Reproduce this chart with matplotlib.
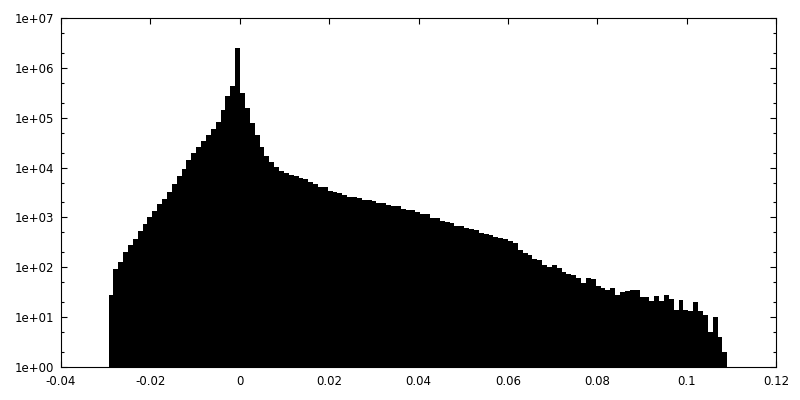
import numpy as np
import matplotlib
matplotlib.use('Agg')
import matplotlib.pyplot as plt
from matplotlib.ticker import FixedLocator, FuncFormatter, LogLocator, NullLocator

# histogram: first bin edge, bin width, counts per bin
x_start = -0.02937
bin_width = 0.0010903
counts = [28, 92, 128, 203, 280, 369, 534, 738, 1020, 1345,
          1858, 2340, 3234, 4680, 6770, 9350, 14180, 19590, 25840, 34100,
          44980, 59330, 82000, 142600, 272400, 432300, 2500000, 312900, 156600, 78300,
          44980, 25840, 17060, 12940, 10260, 8530, 7780, 7100, 6770, 6180,
          5900, 5130, 4680, 4070, 4070, 3390, 3234, 3090, 2817, 2568,
          2568, 2450, 2235, 2235, 2135, 1946, 1946, 1775, 1695, 1695,
          1476, 1409, 1409, 1285, 1171, 1171, 973, 973, 848, 810,
          773, 673, 673, 614, 586, 560, 487, 465, 444, 405,
          387, 369, 337, 307, 222, 193, 176, 147, 140, 111,
          101, 111, 97, 80, 73, 70, 61, 48, 61, 58,
          42, 38, 35, 38, 28, 32, 33, 35, 35, 25,
          25, 21, 27, 21, 28, 23, 14, 22, 14, 13,
          20, 13, 11, 5, 10, 4, 2]

xticks = [-0.04, -0.02, 0, 0.02, 0.04, 0.06, 0.08, 0.1, 0.12]
yticks = [1e0, 1e1, 1e2, 1e3, 1e4, 1e5, 1e6, 1e7]

edges = x_start + bin_width * np.arange(len(counts))

plt.rcParams['font.family'] = 'DejaVu Sans'
plt.rcParams['font.size'] = 8.5

fig = plt.figure(figsize=(8, 4), dpi=100)
ax = fig.add_axes([61/800, 33/400, 715/800, 349/400])

ax.bar(edges, counts, width=bin_width, align='edge', color='black', linewidth=0)

ax.set_yscale('log')
ax.set_xlim(-0.04, 0.12)
ax.set_ylim(1, 1e7)

ax.xaxis.set_major_locator(FixedLocator(xticks))
ax.xaxis.set_major_formatter(FuncFormatter(lambda v, p: '%g' % v))
ax.xaxis.set_minor_locator(NullLocator())
ax.yaxis.set_major_locator(FixedLocator(yticks))
ax.yaxis.set_major_formatter(FuncFormatter(lambda v, p: '%.0e' % v))
ax.yaxis.set_minor_locator(LogLocator(base=10, subs=[2, 5]))

ax.tick_params(which='both', direction='in', top=True, right=True, width=0.8)
ax.tick_params(which='major', length=4.5)
ax.tick_params(which='minor', length=2.5)
ax.tick_params(axis='x', pad=6)
ax.tick_params(axis='y', pad=5)
for s in ax.spines.values():
    s.set_linewidth(0.8)

fig.savefig('out.png', dpi=100)
